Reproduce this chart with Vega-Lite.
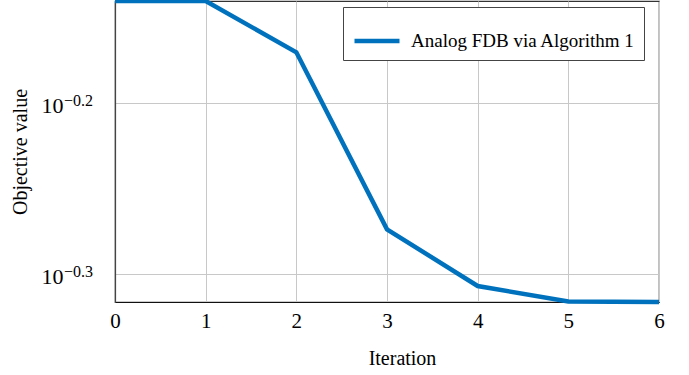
{
  "$schema": "https://vega.github.io/schema/vega-lite/v6.json",
  "width": 544,
  "height": 301,
  "autosize": {"type": "none"},
  "padding": {"left": 115, "top": 1, "right": 30, "bottom": 73},
  "config": {
    "font": "Liberation Serif, Times New Roman, serif",
    "view": {"stroke": "#333333", "strokeWidth": 1.2},
    "legend": {"labelFont": "Liberation Serif, Times New Roman, serif", "labelFontSize": 19},
    "axis": {"labelFont": "Liberation Serif, Times New Roman, serif", "titleFont": "Liberation Serif, Times New Roman, serif"},
    "text": {"font": "Liberation Serif, Times New Roman, serif"}
  },
  "layer": [
    {
      "data": {
        "values": [
          {"iteration": 0, "objective": 0.7240},
          {"iteration": 1, "objective": 0.7240},
          {"iteration": 2, "objective": 0.6757},
          {"iteration": 3, "objective": 0.5324},
          {"iteration": 4, "objective": 0.4933},
          {"iteration": 5, "objective": 0.4831},
          {"iteration": 6, "objective": 0.4828}
        ]
      },
      "mark": {"type": "line", "strokeWidth": 4.5, "clip": false},
      "encoding": {
        "x": {
          "field": "iteration",
          "type": "quantitative",
          "scale": {"domain": [0, 6], "nice": false, "zero": false},
          "axis": {
            "values": [0, 1, 2, 3, 4, 5, 6],
            "format": "d",
            "title": "Iteration",
            "titleFontSize": 20,
            "titleFontWeight": "normal",
            "titleColor": "#000000",
            "titlePadding": 17,
            "titleX": 287,
            "labelFontSize": 21,
            "labelColor": "#000000",
            "labelPadding": 8,
            "labelFlush": false,
            "grid": true,
            "gridColor": "#c8c8c8",
            "gridWidth": 1,
            "domainColor": "#111111",
            "domainWidth": 1.2,
            "ticks": false
          }
        },
        "y": {
          "field": "objective",
          "type": "quantitative",
          "scale": {"type": "log", "domain": [0.4828, 0.7240], "nice": false},
          "axis": {
            "values": [0.630957, 0.501187],
            "labelExpr": "'10'",
            "title": "Objective value",
            "titleFontSize": 20,
            "titleFontWeight": "normal",
            "titleColor": "#000000",
            "titlePadding": 11,
            "labelFontSize": 22,
            "labelColor": "#000000",
            "labelPadding": 52,
            "labelBaseline": "alphabetic",
            "labelOffset": 9.5,
            "grid": true,
            "gridColor": "#c8c8c8",
            "gridWidth": 1,
            "domainColor": "#444444",
            "domainWidth": 1.2,
            "ticks": false
          }
        },
        "color": {
          "datum": "Analog FDB via Algorithm 1",
          "type": "nominal",
          "scale": {"range": ["#0072BD"]},
          "legend": {
            "title": null,
            "orient": "none",
            "legendX": 228,
            "legendY": 6,
            "fillColor": "#ffffff",
            "strokeColor": "#444444",
            "padding": 9,
            "symbolType": "stroke",
            "symbolSize": 2025,
            "symbolStrokeWidth": 4.5,
            "labelFontSize": 19,
            "labelColor": "#000000",
            "labelOffset": 9,
            "labelLimit": 400
          }
        }
      }
    },
    {
      "data": {
        "values": [
          {"objective": 0.630957, "exponent": "−0.2"},
          {"objective": 0.501187, "exponent": "−0.3"}
        ]
      },
      "mark": {
        "type": "text",
        "align": "left",
        "baseline": "alphabetic",
        "dx": -51,
        "dy": 2.5,
        "fontSize": 16,
        "color": "#000000",
        "clip": false
      },
      "encoding": {
        "x": {"datum": 0, "type": "quantitative"},
        "y": {"field": "objective", "type": "quantitative"},
        "text": {"field": "exponent"}
      }
    }
  ]
}
